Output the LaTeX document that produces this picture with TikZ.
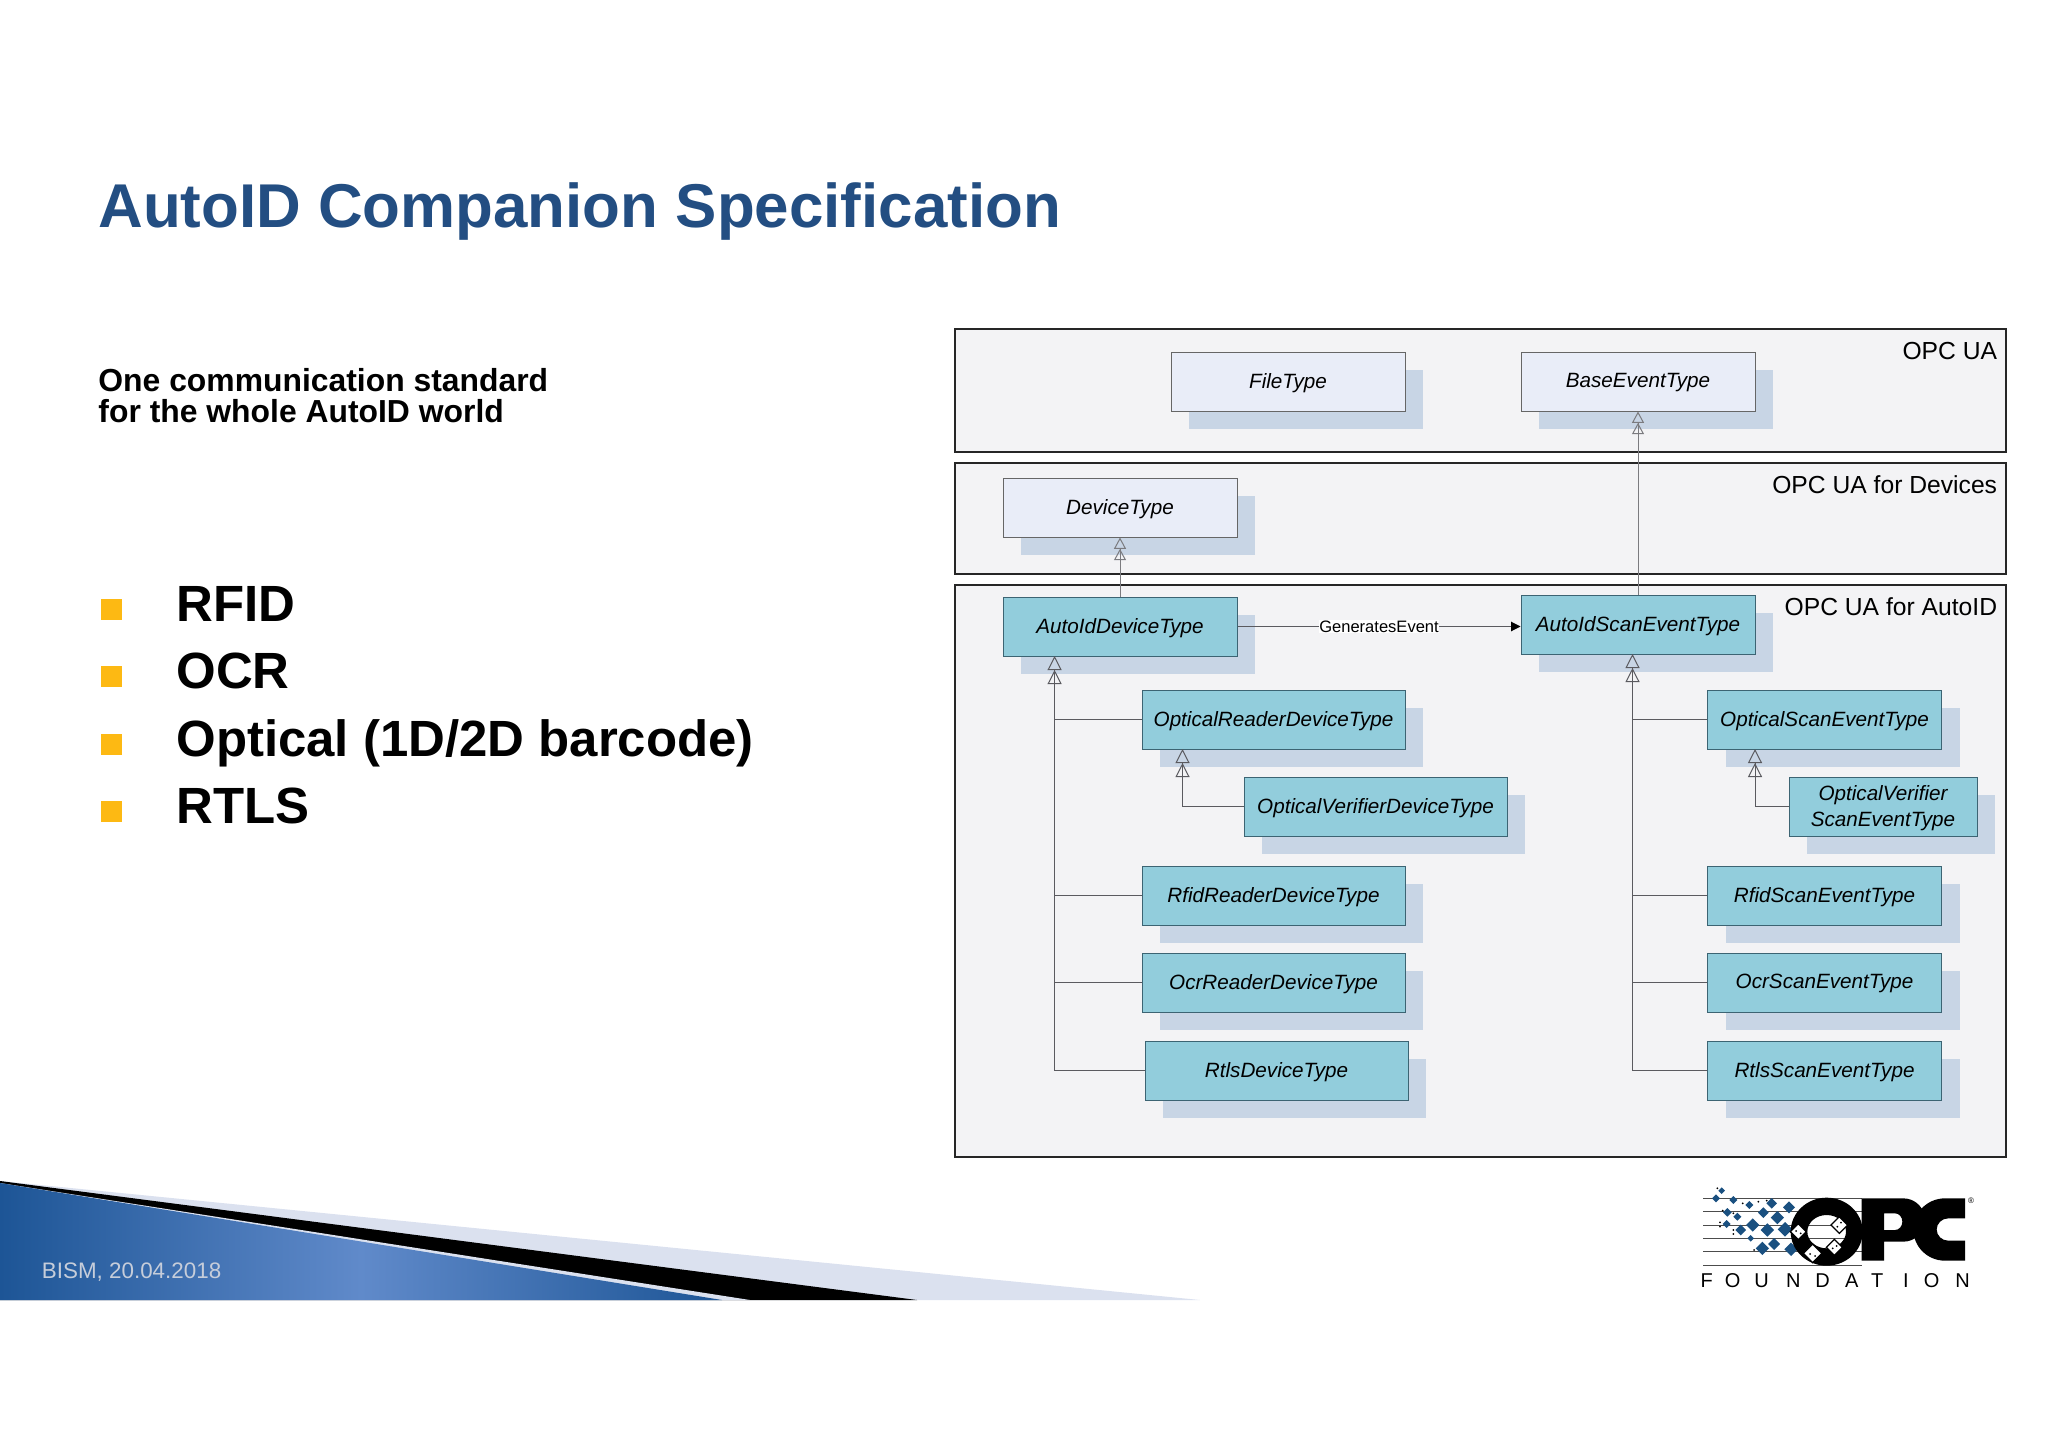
\documentclass[tikz,border=0pt]{standalone}
\usepackage{fontspec}
\setmainfont{Liberation Sans}
\usetikzlibrary{arrows.meta,shapes.geometric,shadows}

\definecolor{titleblue}{RGB}{35,78,130}
\definecolor{bulletyellow}{RGB}{253,185,19}
\definecolor{framegray}{RGB}{243,243,245}
\definecolor{basefill}{RGB}{233,237,248}
\definecolor{tealfill}{RGB}{146,205,220}
\definecolor{tealedge}{RGB}{60,100,115}
\definecolor{shadowblue}{RGB}{200,213,229}
\definecolor{linegray}{RGB}{90,90,95}
\definecolor{paleband}{RGB}{219,225,239}
\definecolor{logoblue}{RGB}{26,80,128}
\definecolor{footdark}{RGB}{29,85,150}
\definecolor{footlight}{RGB}{96,138,202}
\definecolor{footgray}{RGB}{198,205,218}

\tikzset{every picture/.style={line width=0.75pt}}
\tikzset{
	panel/.style={draw=black!85,line width=1.5pt,fill=framegray,inner sep=0pt},
	paneltitle/.style={anchor=east,font=\fontsize{18.5}{18.5}\selectfont},
	typebox/.style={draw=#1,inner sep=0pt,minimum height=44.25pt,align=center,text depth=1.2pt,
		font=\fontsize{15.5}{19.5}\selectfont\itshape,
		general shadow={fill=shadowblue,shadow xshift=13.5pt,shadow yshift=-13.5pt}},
	basebox/.style={typebox=black!60,fill=basefill},
	autoidbox/.style={typebox=tealedge,fill=tealfill},
	isa/.style={draw=linegray,-{Triangle[open,length=10.5pt,width=10.5pt,sep=0pt] Triangle[open,length=10.5pt,width=10.5pt]}},
	isasmall/.style={draw=linegray!80,-{Triangle[open,length=8.5pt,width=9pt,sep=0pt] Triangle[open,length=8.5pt,width=9pt]}},
	assoc/.style={draw=linegray,-{Triangle[length=7pt,width=7pt,color=black]}},
	bullet/.style={fill=bulletyellow,inner sep=0pt,minimum size=15.75pt},
	bigitem/.style={anchor=base west,font=\fontsize{38.2}{38.2}\selectfont\bfseries},
}
\newcommand{\logochip}[3]{\fill[logoblue] (#1-#3,#2) -- (#1,#2-#3) -- (#1+#3,#2) -- (#1,#2+#3) -- cycle;}
\newcommand{\logodot}[2]{\fill (#1,#2) circle (3);}
\newcommand{\logowhite}[3]{\filldraw[fill=white,draw=black,line width=1pt] (#1-#3,#2) -- (#1,#2-#3) -- (#1+#3,#2) -- (#1,#2+#3) -- cycle;}

\begin{document}
\begin{tikzpicture}[x=0.75pt,y=0.75pt,yscale=-1,xscale=1]
	\useasboundingbox (0,0) rectangle (2048,1448);

	% Title
	\node[anchor=base west,text=titleblue,font=\fontsize{46.4}{46.4}\selectfont\bfseries] (title) at (93.5,228) {AutoID Companion Specification};
	% Text Node
	\node[anchor=north west,align=left,font=\fontsize{23.9}{23.25}\selectfont\bfseries] (claim) at (93.5,363) {One communication standard\\for the whole AutoID world};

	% Bullets
	\node[bullet] (bulletrfid) at (111,609) {};
	\node[bullet] (bulletocr) at (111,676) {};
	\node[bullet] (bulletoptical) at (111,744) {};
	\node[bullet] (bulletrtls) at (111,811) {};
	% Text Node
	\node[bigitem] (itemrfid) at (171.5,621.5) {RFID};
	\node[bigitem] (itemocr) at (171.5,688.5) {OCR};
	\node[bigitem] (itemoptical) at (171.5,756.5) {Optical (1D/2D barcode)};
	\node[bigitem] (itemrtls) at (171.5,823.5) {RTLS};

	% Panels
	\node[panel,minimum width=788.25pt,minimum height=92.25pt] (panelua) at (1480.5,390) {};
	\node[panel,minimum width=788.25pt,minimum height=83.25pt] (paneldevices) at (1480.5,518.5) {};
	\node[panel,minimum width=788.25pt,minimum height=429pt] (panelautoid) at (1480.5,871) {};
	% Text Node
	\node[paneltitle] (titleua) at (2002,351) {OPC UA};
	\node[paneltitle] (titledevices) at (2002,485) {OPC UA for Devices};
	\node[paneltitle] (titleautoid) at (2002,607) {OPC UA for AutoID};

	% Type boxes
	\node[basebox,minimum width=175.5pt] (filetype) at (1288,381.5) {FileType};
	\node[basebox,minimum width=175.5pt] (baseeventtype) at (1638,381.5) {BaseEventType};
	\node[basebox,minimum width=175.5pt] (devicetype) at (1120,507.5) {DeviceType};
	\node[autoidbox,minimum width=175.5pt] (autoiddevicetype) at (1120,626.5) {AutoIdDeviceType};
	\node[autoidbox,minimum width=175.5pt] (autoidscaneventtype) at (1638,624.5) {AutoIdScanEventType};
	\node[autoidbox,minimum width=197.25pt] (opticalreader) at (1273.5,719.5) {OpticalReaderDeviceType};
	\node[autoidbox,minimum width=197.25pt] (opticalverifier) at (1375.5,806.5) {OpticalVerifierDeviceType};
	\node[autoidbox,minimum width=197.25pt] (rfidreader) at (1273.5,895.5) {RfidReaderDeviceType};
	\node[autoidbox,minimum width=197.25pt] (ocrreader) at (1273.5,982.5) {OcrReaderDeviceType};
	\node[autoidbox,minimum width=197.25pt] (rtlsdevice) at (1276.5,1070.5) {RtlsDeviceType};
	\node[autoidbox,minimum width=175.5pt] (opticalscan) at (1824.5,719.5) {OpticalScanEventType};
	\node[autoidbox,minimum width=141pt] (verifierscan) at (1883,806.5) {OpticalVerifier\\ScanEventType};
	\node[autoidbox,minimum width=175.5pt] (rfidscan) at (1824.5,895.5) {RfidScanEventType};
	\node[autoidbox,minimum width=175.5pt] (ocrscan) at (1824.5,982.5) {OcrScanEventType};
	\node[autoidbox,minimum width=175.5pt] (rtlsscan) at (1824.5,1070.5) {RtlsScanEventType};

	% Free ends of the inheritance trunks
	\coordinate (devicetrunk) at (1054.6,656);
	\coordinate (scantrunk) at (1632.5,654);
	\coordinate (readertrunk) at (1182.5,749);
	\coordinate (opticalscantrunk) at (1755,749);

	%Straight Lines
	\draw[isasmall] (autoiddevicetype.north) -- (devicetype.south);
	\draw[isasmall] (autoidscaneventtype.north) -- (baseeventtype.south);
	\draw[assoc] (autoiddevicetype.east) -- (autoiddevicetype.east -| autoidscaneventtype.west) node[midway,fill=white,inner sep=0.5pt,font=\fontsize{12.4}{12.4}\selectfont] (generatesevent) {GeneratesEvent};
	\draw[isa] (rtlsdevice.west) -| (devicetrunk);
	\draw[draw=linegray] (opticalreader.west) -- (opticalreader.west -| devicetrunk);
	\draw[draw=linegray] (rfidreader.west) -- (rfidreader.west -| devicetrunk);
	\draw[draw=linegray] (ocrreader.west) -- (ocrreader.west -| devicetrunk);
	\draw[isa] (opticalverifier.west) -| (readertrunk);
	\draw[isa] (rtlsscan.west) -| (scantrunk);
	\draw[draw=linegray] (opticalscan.west) -- (opticalscan.west -| scantrunk);
	\draw[draw=linegray] (rfidscan.west) -- (rfidscan.west -| scantrunk);
	\draw[draw=linegray] (ocrscan.west) -- (ocrscan.west -| scantrunk);
	\draw[isa] (verifierscan.west) -| (opticalscantrunk);

	% Footer wedge
	\fill[paleband] (0,1181) -- (1200,1300) -- (0,1300) -- cycle;
	\fill[black] (0,1181) -- (917,1300) -- (0,1300) -- cycle;
	\fill[paleband] (0,1183) -- (750,1300) -- (0,1300) -- cycle;
	\shade[left color=footdark,right color=footdark,middle color=footlight] (0,1183) -- (722,1300) -- (0,1300) -- cycle;
	% Text Node
	\node[anchor=base west,text=footgray,font=\fontsize{16.8}{16.8}\selectfont] (footdate) at (37,1278) {BISM, 20.04.2018};

	% Logo
	\begin{scope}[shift={(1680,1170)},scale=1/3]
		\draw[black!70] (70,85) -- (545,85);
		\draw[black!70] (70,125) -- (545,125);
		\draw[black!70] (70,165) -- (545,165);
		\draw[black!70] (70,205) -- (545,205);
		\draw[black!70] (70,245) -- (545,245);
		\draw[black!70] (70,285) -- (545,285);
		\logochip{125}{62}{10}
		\logochip{108}{85}{12}
		\logochip{160}{90}{12}
		\logochip{208}{105}{12}
		\logochip{275}{100}{16}
		\logochip{327}{112}{18}
		\logochip{142}{127}{13}
		\logochip{172}{140}{12}
		\logochip{250}{128}{16}
		\logochip{292}{143}{20}
		\logochip{140}{162}{12}
		\logochip{218}{165}{20}
		\logochip{182}{180}{16}
		\logochip{262}{180}{20}
		\logochip{315}{178}{22}
		\logochip{212}{205}{10}
		\logochip{282}{222}{18}
		\logochip{247}{235}{20}
		\logochip{333}{238}{20}
		\logodot{112}{55}
		\logodot{188}{100}
		\logodot{235}{95}
		\logodot{260}{92}
		\logodot{128}{122}
		\logodot{160}{130}
		\logodot{120}{157}
		\logodot{120}{170}
		\logodot{160}{180}
		\logodot{160}{192}
		\logodot{222}{240}
		% O
		\fill[even odd rule] (440,185) ellipse [x radius=108,y radius=102] (440,185) ellipse [x radius=58,y radius=50];
		% P
		\fill[even odd rule] (545,85) -- (670,85) arc [start angle=-90,end angle=90,radius=65] -- (612,215) -- (612,272) -- (545,272) -- cycle
			(612,130) -- (645,130) arc [start angle=-90,end angle=90,x radius=22,y radius=25] -- (612,180) -- cycle;
		% C
		\fill (855,85) -- (795,85) arc [start angle=-90,end angle=-270,x radius=95,y radius=93.5] -- (855,272) -- (855,212) -- (805,212) arc [start angle=90,end angle=270,x radius=35,y radius=33.5] -- (855,145) -- cycle;
		\logowhite{355}{185}{24}
		\logowhite{398}{250}{28}
		\logowhite{463}{232}{24}
		\logowhite{478}{165}{25}
		\logodot{348}{183}
		\logodot{362}{190}
		\logodot{390}{252}
		\logodot{405}{258}
		\logodot{458}{235}
		\logodot{470}{228}
		\logodot{472}{170}
		\logodot{483}{158}
		% Text Node
		\node[font=\fontsize{6}{6}\selectfont] (logoreg) at (873,93) {®};
		\node[anchor=base,font=\fontsize{15}{15}\selectfont] (logof) at (80,353) {F};
		\node[anchor=base,font=\fontsize{15}{15}\selectfont] (logoo) at (158,353) {O};
		\node[anchor=base,font=\fontsize{15}{15}\selectfont] (logou) at (245,353) {U};
		\node[anchor=base,font=\fontsize{15}{15}\selectfont] (logon) at (340,353) {N};
		\node[anchor=base,font=\fontsize{15}{15}\selectfont] (logod) at (428,353) {D};
		\node[anchor=base,font=\fontsize{15}{15}\selectfont] (logoa) at (515,353) {A};
		\node[anchor=base,font=\fontsize{15}{15}\selectfont] (logot) at (592,353) {T};
		\node[anchor=base,font=\fontsize{15}{15}\selectfont] (logoi) at (678,353) {I};
		\node[anchor=base,font=\fontsize{15}{15}\selectfont] (logooo) at (755,353) {O};
		\node[anchor=base,font=\fontsize{15}{15}\selectfont] (logonn) at (848,353) {N};
	\end{scope}
\end{tikzpicture}
\end{document}
